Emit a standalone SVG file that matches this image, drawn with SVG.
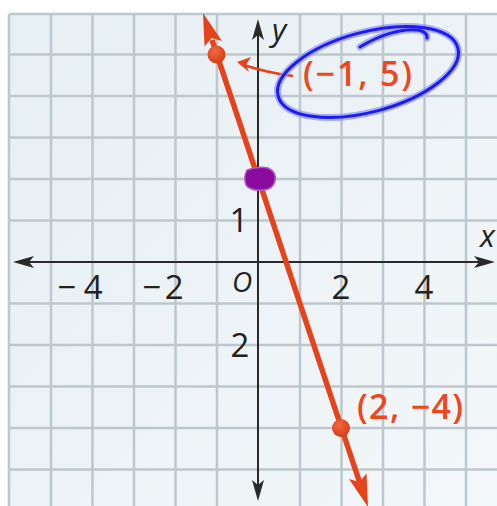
<svg xmlns="http://www.w3.org/2000/svg" width="497" height="506" viewBox="0 0 497 506">
<defs>
<style>
.grid line{stroke:#bcc8cd;stroke-width:2.5}
.axis{stroke:#2a2a2a;stroke-width:2}
.ah{fill:#2a2a2a}
.num{font-family:"Open Sans","Noto Sans",sans-serif;font-size:33px;fill:#222;text-anchor:middle}
.it{font-family:"Open Sans","Noto Sans",sans-serif;font-style:italic;fill:#222}
.lbl{font-family:"Open Sans","Noto Sans",sans-serif;font-size:34px;font-weight:600;fill:#f0461c}
.red{stroke:#e4431b;fill:none}
.redf{fill:#e4431b}
</style>
<linearGradient id="bg" x1="0" y1="0" x2="1" y2="1">
<stop offset="0" stop-color="#e6eff3"/>
<stop offset="1" stop-color="#f3f7f9"/>
</linearGradient>
<radialGradient id="dot" cx="0.4" cy="0.35" r="0.7">
<stop offset="0" stop-color="#f26a45"/>
<stop offset="1" stop-color="#d23a14"/>
</radialGradient>
</defs>
<rect x="0" y="0" width="497" height="506" fill="#ffffff"/>
<rect x="9" y="14" width="488" height="492" fill="url(#bg)"/>
<g id="grid" class="grid">
<line x1="9" y1="14" x2="497" y2="14"/>
<line x1="9" y1="54.5" x2="497" y2="54.5"/>
<line x1="9" y1="96" x2="497" y2="96"/>
<line x1="9" y1="137.5" x2="497" y2="137.5"/>
<line x1="9" y1="179" x2="497" y2="179"/>
<line x1="9" y1="220.5" x2="497" y2="220.5"/>
<line x1="9" y1="303.5" x2="497" y2="303.5"/>
<line x1="9" y1="345" x2="497" y2="345"/>
<line x1="9" y1="386.5" x2="497" y2="386.5"/>
<line x1="9" y1="428" x2="497" y2="428"/>
<line x1="9" y1="469.5" x2="497" y2="469.5"/>
<line x1="9" y1="14" x2="9" y2="506"/>
<line x1="51" y1="14" x2="51" y2="506"/>
<line x1="92.5" y1="14" x2="92.5" y2="506"/>
<line x1="134" y1="14" x2="134" y2="506"/>
<line x1="175.5" y1="14" x2="175.5" y2="506"/>
<line x1="217" y1="14" x2="217" y2="506"/>
<line x1="300" y1="14" x2="300" y2="506"/>
<line x1="341.5" y1="14" x2="341.5" y2="506"/>
<line x1="383" y1="14" x2="383" y2="506"/>
<line x1="424.5" y1="14" x2="424.5" y2="506"/>
<line x1="466" y1="14" x2="466" y2="506"/>
</g>
<g id="axes">
<line class="axis" x1="20" y1="262" x2="488" y2="262"/>
<line class="axis" x1="258" y1="26" x2="258" y2="494"/>
<path class="ah" d="M13,262 L34,256 L29,262 L34,268 Z"/>
<path class="ah" d="M495,262 L474,256 L479,262 L474,268 Z"/>
<path class="ah" d="M258,19 L252,40 L258,35 L264,40 Z"/>
<path class="ah" d="M258,501 L252,480 L258,485 L264,480 Z"/>
</g>
<g id="axis-labels">
<text class="it" x="272" y="41" font-size="31">y</text>
<text class="it" x="480" y="247" font-size="31">x</text>
<text class="num" x="80" y="299" textLength="45" lengthAdjust="spacing">−4</text>
<text class="num" x="163" y="299" textLength="41" lengthAdjust="spacing">−2</text>
<text class="num" x="341" y="299">2</text>
<text class="num" x="424" y="299">4</text>
<text class="num" x="239" y="232">1</text>
<text class="it" x="242" y="292" font-size="28" text-anchor="middle">O</text>
<text class="num" x="240" y="357">2</text>
</g>
<g id="connectors">
<line class="red" stroke-width="5.5" x1="212" y1="40" x2="359.5" y2="482"/>
<path class="redf" d="M203,13 L222,41 L211.5,38 L204.5,46.5 Z"/>
<path class="redf" d="M368,507 L349,479 L359.5,482 L366.5,473.5 Z"/>
<path class="red" stroke-width="2.5" d="M293,76 Q268,73 244,65"/>
<path class="redf" d="M237,62 L251,57 L246,65 L249,72 Z"/>
</g>
<g id="point-a">
<circle cx="216.5" cy="54.5" r="9" fill="url(#dot)"/>
</g>
<g id="point-b">
<circle cx="341" cy="428" r="9" fill="url(#dot)"/>
</g>
<g id="intercept">
<path d="M247,170 Q258,166 268,168 Q277,172 275,181 Q273,190 262,190 Q250,191 246,185 Q243,177 247,170 Z" fill="#8a0c9e" stroke="#b35cc4" stroke-width="1.5"/>
</g>
<g id="label-a">
<text class="lbl" x="303" y="86" textLength="109" lengthAdjust="spacing">(−1, 5)</text>
</g>
<g id="label-b">
<text class="lbl" x="357" y="419" textLength="106" lengthAdjust="spacing">(2, −4)</text>
</g>
<g id="circle-mark" fill="none" stroke-linecap="round">
<g stroke="#8f8fff" stroke-width="7" opacity="0.7">
<ellipse cx="368" cy="72" rx="93" ry="40" transform="rotate(-15 368 72)"/>
<path d="M360,47 C378,36 400,28 418,30 Q428,32 427,38"/>
</g>
<g stroke="#1c1cf2" stroke-width="3">
<ellipse cx="368" cy="72" rx="93" ry="40" transform="rotate(-15 368 72)"/>
<path d="M360,47 C378,36 400,28 418,30 Q428,32 427,38"/>
</g>
</g>
</svg>
